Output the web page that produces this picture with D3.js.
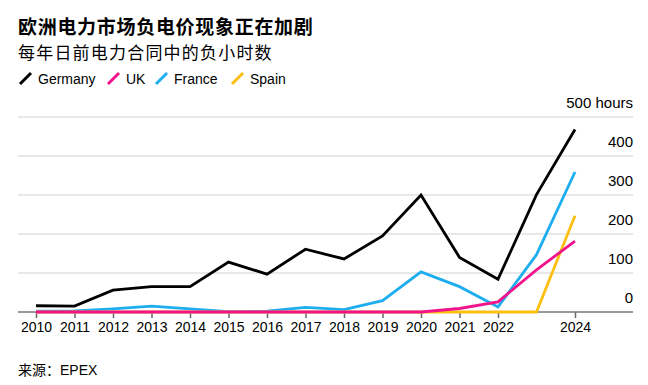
<!DOCTYPE html>
<html>
<head>
<meta charset="utf-8">
<script src="https://cdn.jsdelivr.net/npm/d3@7"></script>
<style>
  body { margin: 0; background: #fff; }
  svg text { font-family: "Liberation Sans", Arial, "Noto Sans CJK SC", sans-serif; fill: #000; }
  .cjk { font-family: "Liberation Sans", "Noto Sans CJK SC", sans-serif; }
</style>
</head>
<body>
<svg id="chart" width="648" height="385"></svg>
<script>
'use strict';

// Data
const years = [2010, 2011, 2012, 2013, 2014, 2015, 2016, 2017, 2018, 2019, 2020, 2021, 2022, 2023, 2024];
const germany = [16, 15, 56, 65, 65, 128, 97, 161, 136, 195, 300, 140, 84, 301, 468];
const uk      = [0, 0, 0, 0, 0, 0, 0, 0, 0, 0, 0, 9, 26, 108, 182];
const france  = [2, 3, 8, 15, 8, 1, 2, 12, 6, 29, 103, 65, 13, 147, 359];
const spain   = [0, 0, 0, 0, 0, 0, 0, 0, 0, 0, 0, 0, 0, 0, 247];
const tickYears = [2010, 2011, 2012, 2013, 2014, 2015, 2016, 2017, 2018, 2019, 2020, 2021, 2022, 2024];
const yTicks = [0, 100, 200, 300, 400, 500];

const series = [
  { name: 'France', values: france, color: '#1eaef0' },
  { name: 'Spain', values: spain, color: '#fcbf10' },
  { name: 'UK', values: uk, color: '#f0148c' },
  { name: 'Germany', values: germany, color: '#000000' }
];
const legendOrder = ['Germany', 'UK', 'France', 'Spain'];

const svg = d3.select('#chart');

// scales
const x = d3.scaleLinear().domain([2010, 2024]).range([36, 575]);
const y = d3.scaleLinear().domain([0, 500]).range([312, 117]);
const left = 18, right = 633;

// title block
svg.append('text').attr('class', 'cjk').attr('x', 18).attr('y', 34)
  .style('font-size', '19px').style('font-weight', 'bold').style('letter-spacing', '0.7px')
  .text('欧洲电力市场负电价现象正在加剧');
svg.append('text').attr('class', 'cjk').attr('x', 18).attr('y', 59)
  .style('font-size', '17px').style('letter-spacing', '1.2px')
  .text('每年日前电力合同中的负小时数');

// legend
const legendX = { Germany: 19, UK: 107, France: 155, Spain: 231 };
const legend = svg.selectAll('g.legend')
  .data(legendOrder.map(n => series.find(s => s.name === n)))
  .enter().append('g')
  .attr('class', 'legend')
  .attr('transform', d => `translate(${legendX[d.name]},0)`);
legend.append('line')
  .attr('x1', 1).attr('y1', 84).attr('x2', 12).attr('y2', 73)
  .attr('stroke', d => d.color).attr('stroke-width', 3);
legend.append('text')
  .attr('x', 19).attr('y', 84)
  .style('font-size', '14px')
  .text(d => d.name);

// gridlines
svg.append('g').selectAll('line')
  .data(yTicks.filter(t => t > 0))
  .enter().append('line')
  .attr('x1', left).attr('x2', right)
  .attr('y1', d => y(d)).attr('y2', d => y(d))
  .attr('stroke', '#e0e0e0').attr('stroke-width', 1.5);

// right-hand value labels
svg.append('g').selectAll('text')
  .data(yTicks)
  .enter().append('text')
  .attr('x', right).attr('y', d => y(d) - 9)
  .attr('text-anchor', 'end')
  .style('font-size', '15px')
  .text(d => d === 500 ? '500 hours' : d);

// x axis
const xAxis = d3.axisBottom(x)
  .tickValues(tickYears)
  .tickFormat(d3.format('d'))
  .tickSize(6)
  .tickPadding(4);
const gx = svg.append('g').attr('transform', `translate(0,${y(0)})`).call(xAxis);
gx.select('.domain').remove();
gx.selectAll('.tick line').attr('stroke', '#666').attr('stroke-width', 1.5);
gx.selectAll('.tick text').style('font-size', '14px')
  .style('font-family', '"Liberation Sans", Arial, sans-serif').attr('fill', '#000');
svg.append('line')
  .attr('x1', left).attr('x2', right)
  .attr('y1', y(0)).attr('y2', y(0))
  .attr('stroke', '#777').attr('stroke-width', 1.5);

// lines
const line = d3.line()
  .x((d, i) => x(years[i]))
  .y(d => y(d));
svg.append('g').selectAll('path')
  .data(series)
  .enter().append('path')
  .attr('d', d => line(d.values))
  .attr('fill', 'none')
  .attr('stroke', d => d.color)
  .attr('stroke-width', 2.8)
  .attr('stroke-linejoin', 'miter');

// source
svg.append('text').attr('class', 'cjk').attr('x', 18).attr('y', 375)
  .style('font-size', '14px')
  .text('来源：EPEX');
</script>
</body>
</html>
